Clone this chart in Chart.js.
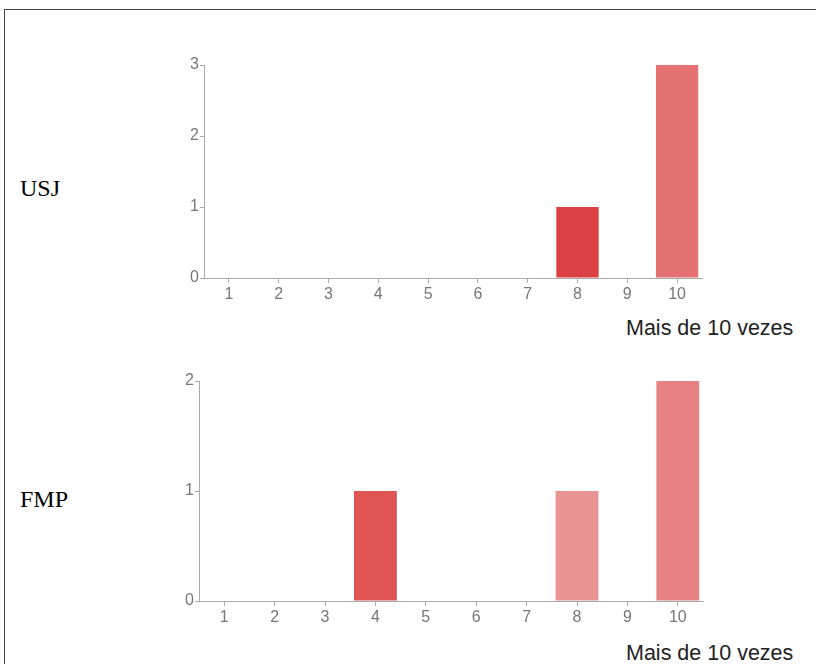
<!DOCTYPE html>
<html>
<head>
<meta charset="utf-8">
<script src="https://cdn.jsdelivr.net/npm/chart.js@4.4.1/dist/chart.umd.min.js"></script>
<style>
  body { margin: 0; background: #fff; width: 816px; height: 664px; overflow: hidden; position: relative; }
  .moldura { position: absolute; left: 4px; top: 9px; width: 900px; height: 800px;
             border-top: 1px solid #444; border-left: 1px solid #444; }
  .rotulo { position: absolute; left: 20px; font-family: "Liberation Serif", "Times New Roman", serif;
            font-size: 24px; color: #000; line-height: 28px; }
  .titulo-x { position: absolute; left: 626px; font-family: "Liberation Sans", Arial, sans-serif;
              font-size: 21.5px; color: #222; line-height: 24px; white-space: nowrap; }
  .caixa { position: absolute; left: 160px; }
</style>
</head>
<body>
<div class="moldura"></div>

<div class="rotulo" style="top:174px">USJ</div>
<div class="rotulo" style="top:485px">FMP</div>

<div class="caixa" style="top:50px; width:560px; height:258px"><canvas id="chartUSJ"></canvas></div>
<div class="caixa" style="top:366px; width:560px; height:265px"><canvas id="chartFMP"></canvas></div>

<div class="titulo-x" style="top:316px">Mais de 10 vezes</div>
<div class="titulo-x" style="top:641px">Mais de 10 vezes</div>

<script>
// ─────────────────────────────────────────────────────────────
// DADOS
// ─────────────────────────────────────────────────────────────
const categorias = ['1', '2', '3', '4', '5', '6', '7', '8', '9', '10'];
const valoresUSJ = [0, 0, 0, 0, 0, 0, 0, 1, 0, 3];
const valoresFMP = [0, 0, 0, 1, 0, 0, 0, 1, 0, 2];
const maxUSJ = 3;
const maxFMP = 2;

const coresUSJ = ['#db4042', '#db4042', '#db4042', '#db4042', '#db4042',
                  '#db4042', '#db4042', '#db4042', '#db4042', '#e47272'];
const coresFMP = ['#e05454', '#e05454', '#e05454', '#e05454', '#e05454',
                  '#e05454', '#e05454', '#ea9494', '#e05454', '#e88282'];

const FONTE = { family: '"Liberation Sans", Arial, sans-serif', size: 16 };
const COR_EIXO = '#aaaaaa';
const COR_TEXTO = '#777777';

// ─────────────────────────────────────────────────────────────
// GRÁFICO
// ─────────────────────────────────────────────────────────────
function criarGrafico(id, valores, cores, maximo, larguraY, padRight) {
    const ctx = document.getElementById(id).getContext('2d');
    return new Chart(ctx, {
        type: 'bar',
        data: {
            labels: categorias,
            datasets: [{
                data: valores,
                backgroundColor: cores,
                borderWidth: 0,
                barPercentage: 0.85,
                categoryPercentage: 1
            }]
        },
        options: {
            responsive: true,
            maintainAspectRatio: false,
            animation: false,
            layout: { padding: { top: 15, right: padRight, bottom: 0, left: 0 } },
            plugins: {
                legend: { display: false },
                tooltip: { enabled: false }
            },
            scales: {
                x: {
                    offset: true,
                    grid: { offset: false, drawOnChartArea: false, drawTicks: true,
                            tickLength: 5, color: COR_EIXO },
                    border: { display: true, color: COR_EIXO, width: 1 },
                    ticks: { color: COR_TEXTO, font: FONTE, padding: 2,
                             maxRotation: 0, autoSkip: false },
                    afterFit: function (scale) { scale.height = 30; }
                },
                y: {
                    min: 0,
                    max: maximo,
                    grid: { drawOnChartArea: false, drawTicks: true,
                            tickLength: 4, color: COR_EIXO },
                    border: { display: true, color: COR_EIXO, width: 1 },
                    ticks: { stepSize: 1, color: COR_TEXTO, font: FONTE, padding: 1 },
                    afterFit: function (scale) { scale.width = larguraY; }
                }
            }
        }
    });
}

criarGrafico('chartUSJ', valoresUSJ, coresUSJ, maxUSJ, 44, 18);
criarGrafico('chartFMP', valoresFMP, coresFMP, maxFMP, 39, 17);
</script>
</body>
</html>
